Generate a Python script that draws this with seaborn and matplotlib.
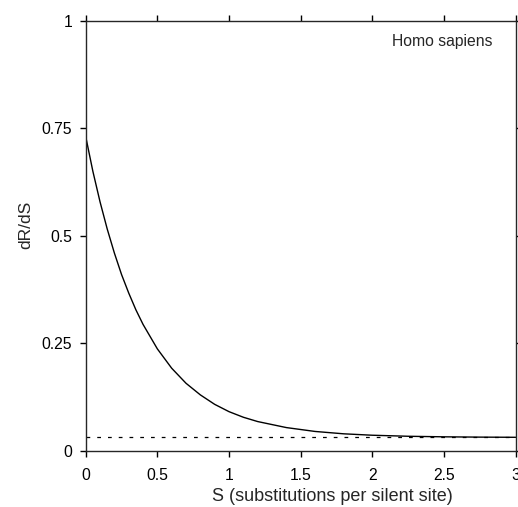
import matplotlib
matplotlib.use("Agg")
import matplotlib.pyplot as plt
import seaborn as sns
import pandas as pd

# values
s_vals = [0.0, 0.05, 0.1, 0.15, 0.2, 0.25, 0.3, 0.35, 0.4, 0.5, 0.6, 0.7, 0.8, 0.9,
          1.0, 1.1, 1.2, 1.4, 1.6, 1.8, 2.0, 2.25, 2.5, 2.75, 3.0]
dr_ds = [0.731, 0.650, 0.579, 0.516, 0.460, 0.410, 0.367, 0.328, 0.294, 0.237, 0.192,
         0.157, 0.130, 0.108, 0.091, 0.078, 0.068, 0.054, 0.045, 0.0395, 0.0362,
         0.0338, 0.0325, 0.0318, 0.0314]
asym_x = [0.0, 3.0]
asym_y = [0.031, 0.031]

x_ticks = [0, 0.5, 1, 1.5, 2, 2.5, 3]
x_labels = ["0", "0.5", "1", "1.5", "2", "2.5", "3"]
y_ticks = [0, 0.25, 0.5, 0.75, 1]
y_labels = ["0", "0.25", "0.5", "0.75", "1"]

sns.set_style("ticks")
plt.rcParams["font.family"] = ["Liberation Sans", "DejaVu Sans"]

df = pd.DataFrame({"S": s_vals, "dRdS": dr_ds})
asym = pd.DataFrame({"S": asym_x, "dRdS": asym_y})

fig = plt.figure(figsize=(5.18, 5.07), dpi=100)
ax = fig.add_axes([85.7 / 518, 56.2 / 507, 430 / 518, 430 / 507])

sns.lineplot(data=df, x="S", y="dRdS", color="black", linewidth=1.0, ax=ax)
sns.lineplot(data=asym, x="S", y="dRdS", color="black", linewidth=0.9,
             linestyle=(0, (3, 5.6)), ax=ax)

ax.set_xlim(0, 3)
ax.set_ylim(0, 1)
ax.set_xticks(x_ticks)
ax.set_xticklabels(x_labels)
ax.set_yticks(y_ticks)
ax.set_yticklabels(y_labels)

for sp in ax.spines.values():
    sp.set_visible(True)
    sp.set_linewidth(1.0)

ax.tick_params(axis="both", direction="out", length=4.3, width=1.0,
               labelsize=11.3, colors="black", pad=5.5,
               top=True, right=True, labeltop=False, labelright=False)
ax.tick_params(axis="x", pad=7.8)

ax.set_xlabel("S (substitutions per silent site)", fontsize=13)
ax.set_ylabel("dR/dS", fontsize=12.5)
ax.xaxis.set_label_coords(0.574, -0.0865)
ax.yaxis.set_label_coords(-0.1226, 0.525)

ax.text(0.712, 0.952, "Homo sapiens", transform=ax.transAxes,
        ha="left", va="center", fontsize=11.3)

fig.savefig("out.png", dpi=100)
